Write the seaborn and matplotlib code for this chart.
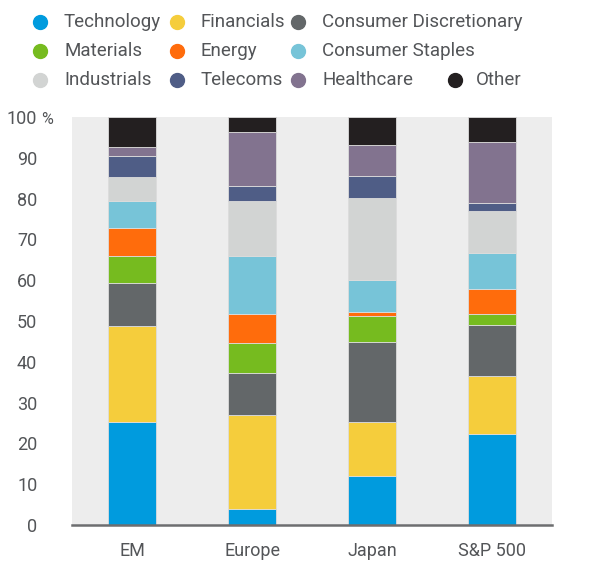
import pandas as pd
import seaborn as sns
import matplotlib.pyplot as plt
from matplotlib.lines import Line2D

# regions and sector weights (% of index), bottom to top
regions = ["EM", "Europe", "Japan", "S&P 500"]
sectors = ["Technology", "Financials", "Consumer Discretionary", "Materials",
           "Energy", "Consumer Staples", "Industrials", "Telecoms",
           "Healthcare", "Other"]
technology = [25.2, 3.9, 12.1, 22.3]
financials = [23.5, 23.1, 13.1, 14.3]
consumer_disc = [10.6, 10.3, 19.7, 12.4]
materials = [6.7, 7.4, 6.4, 2.6]
energy = [6.9, 6.9, 1.0, 6.2]
consumer_staples = [6.6, 14.3, 7.7, 8.8]
industrials = [5.8, 13.6, 20.2, 10.3]
telecoms = [5.2, 3.7, 5.4, 2.1]
healthcare = [2.1, 13.1, 7.5, 14.8]
other = [7.4, 3.7, 6.9, 6.2]

colors = ["#009bde", "#f5cd3c", "#636769", "#76bb1f", "#ff6c0c",
          "#77c4d8", "#d2d4d3", "#4f5d86", "#82738f", "#231f20"]
yticks = [0, 10, 20, 30, 40, 50, 60, 70, 80, 90, 100]

values = [technology, financials, consumer_disc, materials, energy,
          consumer_staples, industrials, telecoms, healthcare, other]
rows = []
for sector, vals in zip(sectors, values):
    for region, v in zip(regions, vals):
        rows.append({"region": region, "sector": sector, "weight": v})
df = pd.DataFrame(rows)
df["region"] = pd.Categorical(df["region"], categories=regions, ordered=True)

sns.set_style("white")
plt.rcParams["font.family"] = ["Roboto", "DejaVu Sans"]
text_color = "#535558"

fig = plt.figure(figsize=(5.97, 5.61), dpi=100)
ax = fig.add_axes([72 / 597, 36 / 561, 480 / 597, 408 / 561])
ax.set_facecolor("#ededed")

# stacked bars: histplot with weights stacks hue levels
sns.histplot(data=df, x="region", weights="weight", hue="sector",
             hue_order=sectors[::-1], palette=colors[::-1],
             multiple="stack", discrete=True, shrink=0.4, alpha=1,
             edgecolor="#dcdcdc", linewidth=0.6, legend=False, ax=ax)

ax.set_xlim(-0.5, 3.5)
ax.set_ylim(0, 100)
ax.set_yticks(yticks)
ax.set_yticklabels([str(t) for t in yticks])
ax.set_xticks(range(len(regions)))
ax.set_xticklabels(regions)
ax.set_xlabel("")
ax.set_ylabel("")
ax.tick_params(axis="both", length=0, labelsize=13, colors=text_color)
ax.tick_params(axis="y", pad=25)
ax.tick_params(axis="x", pad=12)
for s in ["top", "right", "left"]:
    ax.spines[s].set_visible(False)
ax.spines["bottom"].set_color("#6d6e70")
ax.spines["bottom"].set_linewidth(1.8)
fig.text(41 / 597, 1 - 119 / 561, "%", fontsize=11.5, color=text_color,
         ha="left", va="center")

# legend laid out in columns like the original
columns = [
    (40, [0, 3, 6]),
    (177, [1, 4, 7]),
    (298, [2, 5, 8]),
]
row_y = [22, 51, 80]
for x, idx in columns:
    for r, i in enumerate(idx):
        fig.add_artist(Line2D([x / 597], [1 - row_y[r] / 561], marker="o",
                              markersize=10, color=colors[i], linestyle="none"))
        fig.text((x + 24) / 597, 1 - row_y[r] / 561, sectors[i], fontsize=13.5,
                 color=text_color, ha="left", va="center")
fig.add_artist(Line2D([455 / 597], [1 - row_y[2] / 561], marker="o",
                      markersize=10, color=colors[9], linestyle="none"))
fig.text(476 / 597, 1 - row_y[2] / 561, sectors[9], fontsize=13.5,
         color=text_color, ha="left", va="center")

fig.savefig("out.png", dpi=100)
